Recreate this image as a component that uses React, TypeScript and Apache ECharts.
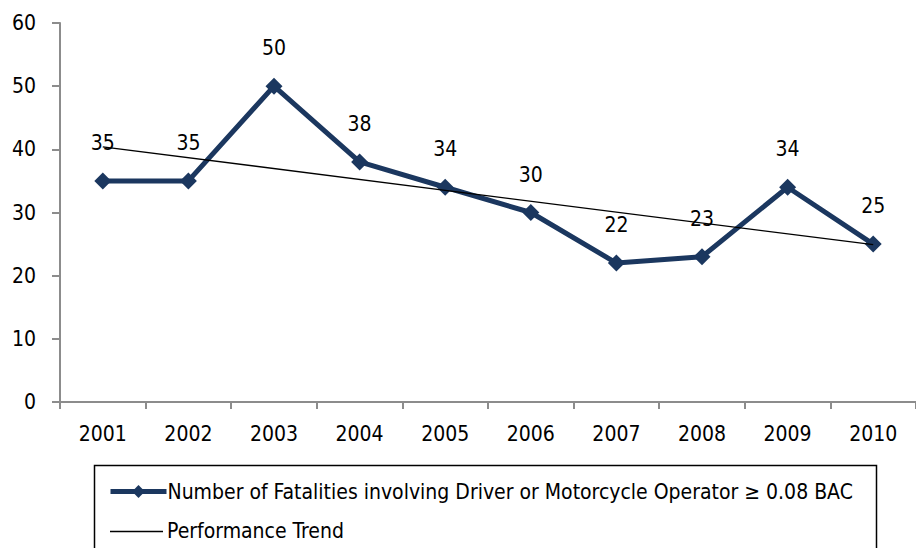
import React, { useEffect, useRef } from "react";
import * as echarts from "echarts";

const years = ["2001", "2002", "2003", "2004", "2005", "2006", "2007", "2008", "2009", "2010"];
const fatalities = [35, 35, 50, 38, 34, 30, 22, 23, 34, 25];
const trendStart = 40.4;
const trendEnd = 24.9;
const seriesName = "Number of Fatalities involving Driver or Motorcycle Operator \u2265 0.08 BAC";
const trendName = "Performance Trend";

const FONT = "'DejaVu Sans Condensed', 'Liberation Sans Narrow', 'Arial Narrow', sans-serif";
const FS = 21;

export default function App() {
  const ref = useRef<HTMLDivElement>(null);
  useEffect(() => {
    const chart = echarts.init(ref.current!, null, { renderer: "svg" });
    chart.setOption({
      animation: false,
      backgroundColor: "#ffffff",
      textStyle: { fontFamily: FONT },
      grid: { left: 60, top: 23, bottom: 146, right: -10, containLabel: false },
      xAxis: {
        type: "category",
        data: years,
        boundaryGap: true,
        axisLine: { lineStyle: { color: "#8c8c8c", width: 2 } },
        axisTick: { show: true, length: 7, lineStyle: { color: "#8c8c8c", width: 2 } },
        axisLabel: { color: "#000", fontSize: FS, margin: 21, fontFamily: FONT },
        splitLine: { show: false },
      },
      yAxis: {
        type: "value",
        min: 0,
        max: 60,
        interval: 10,
        axisLine: { show: true, lineStyle: { color: "#8c8c8c", width: 2 } },
        axisTick: { show: true, length: 8, lineStyle: { color: "#8c8c8c", width: 2 } },
        axisLabel: { color: "#000", fontSize: FS, margin: 24, fontFamily: FONT },
        splitLine: { show: false },
      },
      graphic: [
        {
          type: "rect",
          shape: { x: 94.5, y: 465.5, width: 782, height: 120 },
          style: { fill: "none", stroke: "#000", lineWidth: 1.5 },
          z: 0,
        },
        {
          type: "line",
          shape: { x1: 110, y1: 531.5, x2: 163, y2: 531.5 },
          style: { stroke: "#000", lineWidth: 1.3 },
        },
        {
          type: "text",
          x: 167,
          y: 531,
          style: {
            text: trendName,
            fill: "#000",
            fontSize: FS,
            fontFamily: FONT,
            verticalAlign: "middle",
            align: "left",
          },
        },
      ],
      legend: {
        orient: "vertical",
        left: 108,
        top: 481,
        itemWidth: 56,
        itemHeight: 16,
        padding: 0,
        textStyle: { color: "#000", fontSize: FS, fontFamily: FONT, padding: [0, 0, 0, -4] },
        data: [{ name: seriesName, lineStyle: { width: 5 } }],
      },
      series: [
        {
          name: seriesName,
          type: "line",
          data: fatalities,
          symbol: "diamond",
          symbolSize: 17,
          itemStyle: { color: "#1b375f" },
          lineStyle: { color: "#1b375f", width: 5 },
          label: {
            show: true,
            position: "top",
            distance: 19,
            color: "#000",
            fontSize: FS,
            fontFamily: FONT,
          },
          z: 3,
        },
        {
          name: trendName,
          type: "line",
          data: [[0, trendStart], [years.length - 1, trendEnd]],
          symbol: "none",
          lineStyle: { color: "#000", width: 1.3 },
          itemStyle: { color: "#000" },
          z: 4,
        },
      ],
    });
    return () => chart.dispose();
  }, []);
  return <div ref={ref} style={{ width: 916, height: 548, position: "absolute", left: 0, top: 0 }} />;
}
